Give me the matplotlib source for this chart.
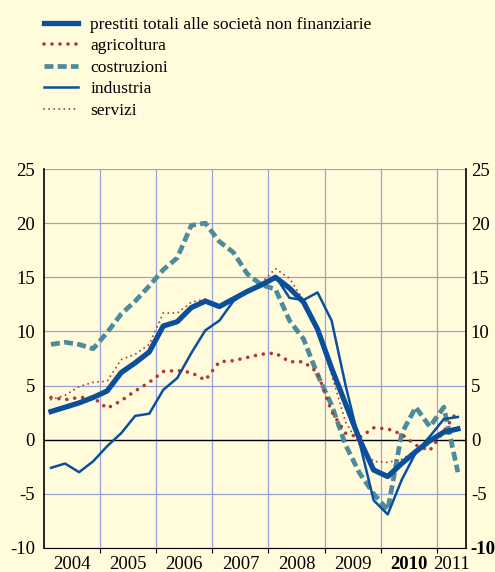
#!/usr/bin/env python3

import pandas as pd
import matplotlib
matplotlib.use("Agg")
import matplotlib.pyplot as plt

# quarterly observations, 2004Q1 - 2011Q2 (annual growth rates, %)
periods = pd.period_range("2004Q1", "2011Q2", freq="Q")

totale = [2.6, 3.0, 3.4, 3.9, 4.5, 6.2, 7.1, 8.1, 10.5, 10.9, 12.2, 12.8,
          12.3, 13.0, 13.7, 14.3, 15.0, 14.0, 12.7, 10.2, 6.6, 3.3, 0.0,
          -2.8, -3.4, -2.2, -1.1, -0.1, 0.7, 1.0]
agricoltura = [3.9, 3.7, 3.9, 3.9, 2.9, 3.6, 4.5, 5.3, 6.3, 6.4, 6.2, 5.5,
               7.2, 7.3, 7.6, 7.9, 8.0, 7.2, 7.2, 6.2, 2.6, 0.6, 0.2, 1.1,
               1.0, 0.5, -0.5, -1.0, 0.8, 2.7]
costruzioni = [8.8, 9.0, 8.8, 8.4, 9.9, 11.6, 12.8, 14.2, 15.7, 16.8, 19.8,
               20.0, 18.3, 17.3, 15.3, 14.3, 13.9, 11.0, 9.3, 6.0, 3.2, -0.5,
               -3.1, -5.0, -6.5, 0.6, 3.0, 1.2, 3.0, -3.0]
industria = [-2.6, -2.2, -3.0, -2.0, -0.6, 0.6, 2.2, 2.4, 4.6, 5.7, 8.0, 10.1,
             11.0, 12.8, 13.7, 14.3, 15.1, 13.1, 12.9, 13.6, 11.0, 5.0, -0.3,
             -5.6, -6.9, -3.7, -1.2, 0.3, 1.9, 2.1]
servizi = [3.7, 4.1, 4.9, 5.3, 5.4, 7.4, 7.9, 8.8, 11.7, 11.7, 12.7, 13.0,
           12.2, 12.8, 13.6, 14.5, 15.8, 14.9, 12.9, 10.2, 6.0, 1.6, -0.5,
           -2.0, -2.1, -1.8, -1.0, -0.3, 0.5, 1.3]

years = [2004, 2005, 2006, 2007, 2008, 2009, 2010, 2011]
yticks = [-10, -5, 0, 5, 10, 15, 20, 25]

BLUE = "#0b4f9c"
TEAL = "#4b8c9c"
RED = "#b2392f"
BG = "#fffbdb"
GRID = "#98a4d8"

plt.rcParams["font.family"] = ["Liberation Serif", "DejaVu Serif"]
plt.rcParams["axes.unicode_minus"] = False

x = [p.year + (p.quarter - 0.5) / 4 for p in periods]
xmax = 2011.52

fig = plt.figure(figsize=(4.95, 5.72), dpi=100, facecolor=BG)
ax = fig.add_axes([0.0889, 0.042, 0.8525, 0.6625], facecolor=BG)

for y in yticks:
    if y != 0:
        ax.axhline(y, color=GRID, lw=0.9, zorder=1)
for yr in years[1:]:
    ax.axvline(yr, color=GRID, lw=0.9, zorder=1)
ax.axhline(0, color="black", lw=1.0, zorder=2)

l_tot, = ax.plot(x, totale, color=BLUE, lw=3.8, solid_joinstyle="round",
                 zorder=6, label="prestiti totali alle società non finanziarie")
l_agr, = ax.plot(x, agricoltura, color=RED, lw=2.6, linestyle=(0, (0.01, 2.2)),
                 dash_capstyle="round", zorder=4, label="agricoltura")
l_cos, = ax.plot(x, costruzioni, color=TEAL, lw=3.4, linestyle=(0, (1.9, 0.9)),
                 zorder=3, label="costruzioni")
l_ind, = ax.plot(x, industria, color=BLUE, lw=1.8, zorder=5, label="industria")
l_ser, = ax.plot(x, servizi, color=RED, lw=1.4, linestyle=(0, (0.01, 2.6)),
                 dash_capstyle="round", zorder=4, label="servizi")

ax.set_xlim(2004, xmax)
ax.set_ylim(-10, 25)

ax.spines["top"].set_visible(False)
ax.spines["right"].set_visible(False)
ax.spines["left"].set_linewidth(1.2)
ax.spines["bottom"].set_linewidth(0.8)

ax.set_yticks(yticks)
ax.tick_params(axis="y", length=0, labelsize=13.5, pad=6.5)

# right-hand scale
ax2 = ax.twinx()
ax2.set_ylim(-10, 25)
ax2.set_yticks(yticks)
ax2.tick_params(axis="y", length=0, labelsize=13.5, pad=3.5)
for s in ["top", "left", "bottom"]:
    ax2.spines[s].set_visible(False)
ax2.spines["right"].set_linewidth(1.2)
for lab, val in zip(ax2.get_yticklabels(), yticks):
    if val == -10:
        lab.set_fontweight("bold")

ax.set_xticks(years[1:])
ax.set_xticklabels([])
ax.tick_params(axis="x", length=3.5, width=0.8, direction="out")
label_pos = [yr + 0.5 for yr in years[:-1]] + [(years[-1] + xmax) / 2]
for pos, yr in zip(label_pos, years):
    ax.text(pos, -10.7, str(yr), ha="center", va="top", fontsize=13.5,
            fontweight="bold" if yr == 2010 else "normal", clip_on=False)

handles = [l_tot, l_agr, l_cos, l_ind, l_ser]
fig.legend(handles=handles, loc="upper left", bbox_to_anchor=(0.075, 0.983),
           frameon=False, fontsize=12.6, handlelength=1.95, handletextpad=0.7,
           labelspacing=0.3, borderaxespad=0)

fig.savefig("out.png", dpi=100, facecolor=BG)
